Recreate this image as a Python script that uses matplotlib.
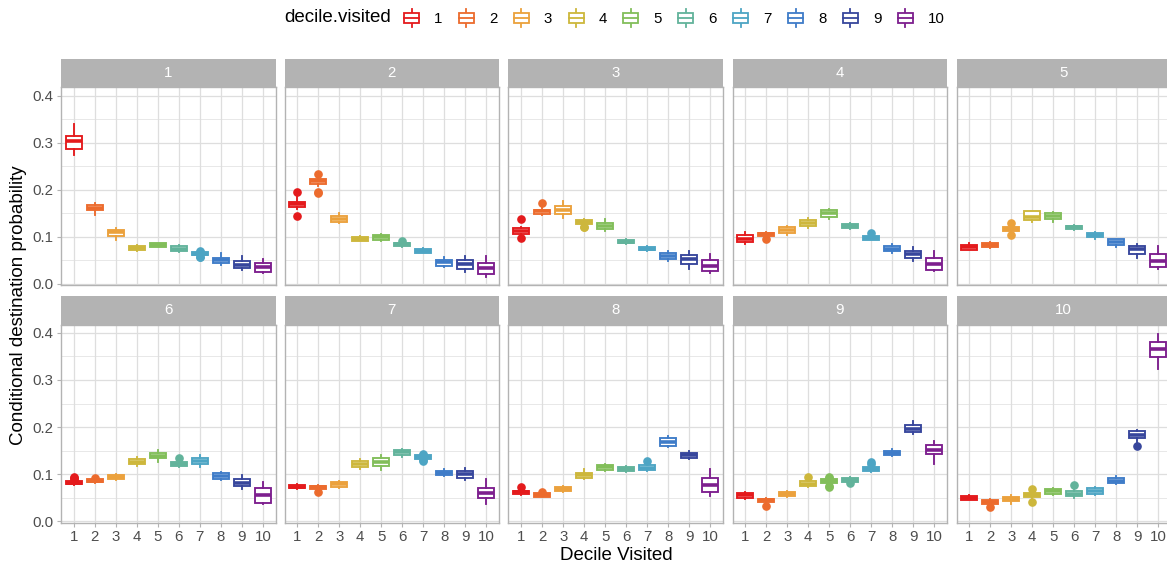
import matplotlib
matplotlib.use('Agg')
import matplotlib.pyplot as plt
from matplotlib.legend_handler import HandlerBase
from matplotlib.patches import Rectangle
from matplotlib.lines import Line2D

plt.rcParams['font.family'] = ['Liberation Sans', 'DejaVu Sans']

# data: one row per origin decile (facet), one value per decile visited
deciles = list(range(1, 11))
tick_labels = [str(d) for d in deciles]
colors = ['#E41A1C', '#EC6B2D', '#EBA13C', '#CDB73C', '#82BE5A',
          '#62B39B', '#4DA5C4', '#3F7CC8', '#37469C', '#7D1F8E']

q1 = [
    [0.286, 0.157, 0.101, 0.073, 0.079, 0.070, 0.0605, 0.044, 0.034, 0.025],
    [0.163, 0.213, 0.1325, 0.092, 0.094, 0.0796, 0.066, 0.039, 0.032, 0.020],
    [0.106, 0.149, 0.148, 0.128, 0.116, 0.086, 0.071, 0.053, 0.043, 0.027],
    [0.089, 0.1016, 0.109, 0.123, 0.142, 0.119, 0.094, 0.069, 0.054, 0.030],
    [0.073, 0.0775, 0.113, 0.135, 0.137, 0.1165, 0.0995, 0.0817, 0.0627, 0.035],
    [0.0787, 0.083, 0.089, 0.121, 0.1335, 0.117, 0.1215, 0.090, 0.0737, 0.0387],
    [0.0695, 0.069, 0.073, 0.1145, 0.118, 0.140, 0.1326, 0.0977, 0.092, 0.049],
    [0.0577, 0.052, 0.063, 0.0914, 0.1095, 0.1067, 0.109, 0.160, 0.1335, 0.061],
    [0.0493, 0.0408, 0.0526, 0.0737, 0.080, 0.084, 0.1067, 0.1404, 0.189, 0.1425],
    [0.0457, 0.0366, 0.042, 0.0506, 0.0577, 0.0526, 0.0577, 0.080, 0.177, 0.3488],
]
med = [
    [0.304, 0.162, 0.110, 0.077, 0.083, 0.075, 0.064, 0.051, 0.041, 0.036],
    [0.169, 0.218, 0.138, 0.096, 0.099, 0.084, 0.0705, 0.046, 0.043, 0.033],
    [0.113, 0.154, 0.157, 0.132, 0.124, 0.090, 0.075, 0.059, 0.052, 0.038],
    [0.096, 0.106, 0.115, 0.129, 0.150, 0.1235, 0.098, 0.075, 0.0625, 0.043],
    [0.078, 0.082, 0.117, 0.142, 0.144, 0.120, 0.104, 0.089, 0.075, 0.049],
    [0.082, 0.086, 0.094, 0.126, 0.139, 0.122, 0.1275, 0.0965, 0.080, 0.0555],
    [0.0735, 0.073, 0.078, 0.122, 0.125, 0.1465, 0.1365, 0.102, 0.0995, 0.0606],
    [0.0615, 0.0555, 0.068, 0.097, 0.115, 0.111, 0.1135, 0.168, 0.1395, 0.077],
    [0.0545, 0.044, 0.0575, 0.079, 0.085, 0.088, 0.111, 0.145, 0.195, 0.152],
    [0.050, 0.041, 0.047, 0.056, 0.063, 0.058, 0.064, 0.085, 0.184, 0.365],
]
q3 = [
    [0.314, 0.167, 0.115, 0.081, 0.0865, 0.0795, 0.068, 0.056, 0.048, 0.044],
    [0.175, 0.223, 0.144, 0.100, 0.104, 0.088, 0.0747, 0.0514, 0.050, 0.044],
    [0.118, 0.158, 0.166, 0.135, 0.129, 0.094, 0.079, 0.0656, 0.061, 0.051],
    [0.1037, 0.109, 0.1206, 0.135, 0.157, 0.1276, 0.102, 0.081, 0.070, 0.0557],
    [0.083, 0.0875, 0.121, 0.1545, 0.150, 0.124, 0.1086, 0.0944, 0.0796, 0.0635],
    [0.0863, 0.090, 0.098, 0.132, 0.1446, 0.126, 0.1335, 0.102, 0.0905, 0.070],
    [0.077, 0.075, 0.083, 0.1284, 0.1335, 0.1516, 0.140, 0.1067, 0.1074, 0.070],
    [0.065, 0.059, 0.0724, 0.1025, 0.120, 0.1158, 0.119, 0.177, 0.145, 0.092],
    [0.0598, 0.0478, 0.0625, 0.0842, 0.090, 0.0926, 0.1158, 0.1495, 0.2036, 0.1615],
    [0.054, 0.045, 0.052, 0.0604, 0.068, 0.063, 0.0695, 0.092, 0.191, 0.3804],
]
whisker_lo = [
    [0.274, 0.146, 0.093, 0.069, 0.078, 0.067, 0.0595, 0.041, 0.029, 0.023],
    [0.159, 0.209, 0.129, 0.091, 0.092, 0.078, 0.065, 0.036, 0.026, 0.015],
    [0.103, 0.146, 0.141, 0.125, 0.113, 0.085, 0.070, 0.049, 0.031, 0.024],
    [0.085, 0.100, 0.105, 0.119, 0.138, 0.117, 0.093, 0.066, 0.049, 0.027],
    [0.071, 0.076, 0.108, 0.1325, 0.132, 0.115, 0.096, 0.079, 0.054, 0.032],
    [0.077, 0.081, 0.088, 0.117, 0.125, 0.116, 0.116, 0.088, 0.068, 0.037],
    [0.068, 0.067, 0.071, 0.111, 0.108, 0.137, 0.131, 0.095, 0.0865, 0.037],
    [0.056, 0.051, 0.062, 0.0895, 0.107, 0.105, 0.107, 0.157, 0.131, 0.053],
    [0.048, 0.039, 0.051, 0.072, 0.078, 0.083, 0.105, 0.1375, 0.186, 0.122],
    [0.044, 0.035, 0.036, 0.048, 0.056, 0.0485, 0.056, 0.078, 0.166, 0.324],
]
whisker_hi = [
    [0.339, 0.173, 0.118, 0.083, 0.088, 0.082, 0.0685, 0.066, 0.059, 0.052],
    [0.185, 0.228, 0.151, 0.101, 0.107, 0.089, 0.076, 0.057, 0.060, 0.059],
    [0.122, 0.163, 0.176, 0.137, 0.138, 0.095, 0.080, 0.070, 0.070, 0.063],
    [0.110, 0.110, 0.124, 0.140, 0.160, 0.130, 0.103, 0.085, 0.079, 0.070],
    [0.087, 0.090, 0.125, 0.156, 0.153, 0.125, 0.110, 0.096, 0.084, 0.081],
    [0.088, 0.091, 0.100, 0.137, 0.152, 0.128, 0.140, 0.104, 0.097, 0.0835],
    [0.079, 0.077, 0.085, 0.132, 0.141, 0.154, 0.1405, 0.110, 0.113, 0.0887],
    [0.067, 0.060, 0.074, 0.111, 0.122, 0.118, 0.121, 0.180, 0.148, 0.111],
    [0.062, 0.049, 0.064, 0.086, 0.091, 0.094, 0.117, 0.153, 0.212, 0.171],
    [0.056, 0.047, 0.055, 0.063, 0.070, 0.066, 0.072, 0.096, 0.194, 0.398],
]
# outliers keyed by (origin decile, decile visited)
outliers = {
    (1, 7): [0.070, 0.068, 0.058, 0.057],
    (2, 1): [0.196, 0.145], (2, 2): [0.234, 0.196, 0.194], (2, 6): [0.092],
    (3, 1): [0.139, 0.097], (3, 2): [0.171], (3, 4): [0.122, 0.120],
    (4, 2): [0.095], (4, 7): [0.108],
    (5, 3): [0.129, 0.103],
    (6, 1): [0.093, 0.091, 0.089], (6, 2): [0.0915], (6, 6): [0.1345],
    (7, 2): [0.061], (7, 7): [0.143, 0.141, 0.129, 0.127],
    (8, 1): [0.072], (8, 2): [0.0615], (8, 7): [0.127],
    (9, 2): [0.033], (9, 4): [0.094], (9, 5): [0.094, 0.092, 0.075, 0.073],
    (9, 6): [0.081], (9, 7): [0.125, 0.122],
    (10, 2): [0.029], (10, 4): [0.069, 0.041], (10, 6): [0.077], (10, 9): [0.160],
}


class BoxKey(HandlerBase):
    def create_artists(self, legend, orig_handle, xdescent, ydescent,
                       width, height, fontsize, trans):
        c = orig_handle.get_color()
        x0, y0 = -xdescent, -ydescent
        cx = x0 + width / 2
        b0, b1 = y0 + height * 0.22, y0 + height * 0.78
        box = Rectangle((x0, b0), width, b1 - b0, facecolor='white',
                        edgecolor=c, lw=1.3, transform=trans)
        mid = Line2D([x0, x0 + width], [y0 + height / 2] * 2, color=c, lw=1.3,
                     transform=trans)
        w1 = Line2D([cx, cx], [y0, b0], color=c, lw=1.3, transform=trans)
        w2 = Line2D([cx, cx], [b1, y0 + height], color=c, lw=1.3, transform=trans)
        return [w1, w2, box, mid]


W, H = 1167, 568
fig = plt.figure(figsize=(W / 100, H / 100), dpi=100)

col_left = [61, 284.5, 508.5, 732.5, 956.5]
row_top = [87.3, 324.5]
pw, ph, sh = 214.5, 198, 28.5
grey70 = '#B3B3B3'


def fig_box(x, y, w, h):
    return [x / W, 1 - (y + h) / H, w / W, h / H]


for p in range(10):
    r, c = divmod(p, 5)
    ax = fig.add_axes(fig_box(col_left[c], row_top[r], pw, ph))
    stats = []
    for d in range(10):
        stats.append(dict(med=med[p][d], q1=q1[p][d], q3=q3[p][d],
                          whislo=whisker_lo[p][d], whishi=whisker_hi[p][d],
                          fliers=outliers.get((p + 1, d + 1), [])))
    art = ax.bxp(stats, positions=deciles, widths=0.75, showcaps=False,
                 patch_artist=True)
    for d, col in enumerate(colors):
        art['boxes'][d].set(facecolor='white', edgecolor=col, linewidth=1.35)
        art['medians'][d].set(color=col, linewidth=2.6, solid_capstyle='butt')
        for wk in art['whiskers'][2 * d:2 * d + 2]:
            wk.set(color=col, linewidth=1.35)
        art['fliers'][d].set(marker='o', markerfacecolor=col, markeredgecolor=col,
                             markersize=5.2, linestyle='none')

    ax.set_xlim(0.4, 10.6)
    ax.set_ylim(-0.003, 0.418)
    ax.set_xticks(deciles)
    ax.set_xticklabels(tick_labels)
    ax.set_yticks([0, 0.1, 0.2, 0.3, 0.4])
    ax.set_yticklabels(['0.0', '0.1', '0.2', '0.3', '0.4'])
    ax.set_yticks([0.05, 0.15, 0.25, 0.35], minor=True)
    ax.set_axisbelow(True)
    ax.grid(which='major', color='#DEDEDE', lw=0.9)
    ax.grid(which='minor', axis='y', color='#DEDEDE', lw=0.5)
    ax.tick_params(which='minor', length=0)
    ax.tick_params(which='major', color=grey70, width=0.8, length=2.8, pad=2.5,
                   labelsize=10.8, labelcolor='#4D4D4D')
    if c != 0:
        ax.tick_params(axis='y', length=0, labelleft=False)
    if r == 0:
        ax.tick_params(axis='x', length=0, labelbottom=False)
    for s in ax.spines.values():
        s.set_color(grey70)
        s.set_linewidth(1.0)

    sax = fig.add_axes(fig_box(col_left[c], row_top[r] - sh, pw, sh))
    sax.set_facecolor(grey70)
    sax.set_xticks([])
    sax.set_yticks([])
    for s in sax.spines.values():
        s.set_visible(False)
    sax.text(0.5, 0.5, str(p + 1), color='white', ha='center', va='center',
             fontsize=10.8, transform=sax.transAxes)

fig.text(19 / W, 1 - 305 / H, 'Conditional destination probability', rotation=90,
         ha='center', va='center', fontsize=13.5)
fig.text(616 / W, 1 - 555 / H, 'Decile Visited', ha='center', va='center',
         fontsize=13.5)

fig.text(284 / W, 1 - 18 / H, 'decile.visited', ha='left', va='center',
         fontsize=13.5)
handles = [Line2D([], [], color=col) for col in colors]
fig.legend(handles, tick_labels, handler_map={Line2D: BoxKey()}, ncol=10,
           loc='center left', bbox_to_anchor=(404 / W, 1 - 18 / H),
           frameon=False, borderpad=0, borderaxespad=0, handlelength=1.0,
           handleheight=1.5, handletextpad=1.0, columnspacing=1.1,
           fontsize=10.8)

fig.savefig('out.png', dpi=100)
